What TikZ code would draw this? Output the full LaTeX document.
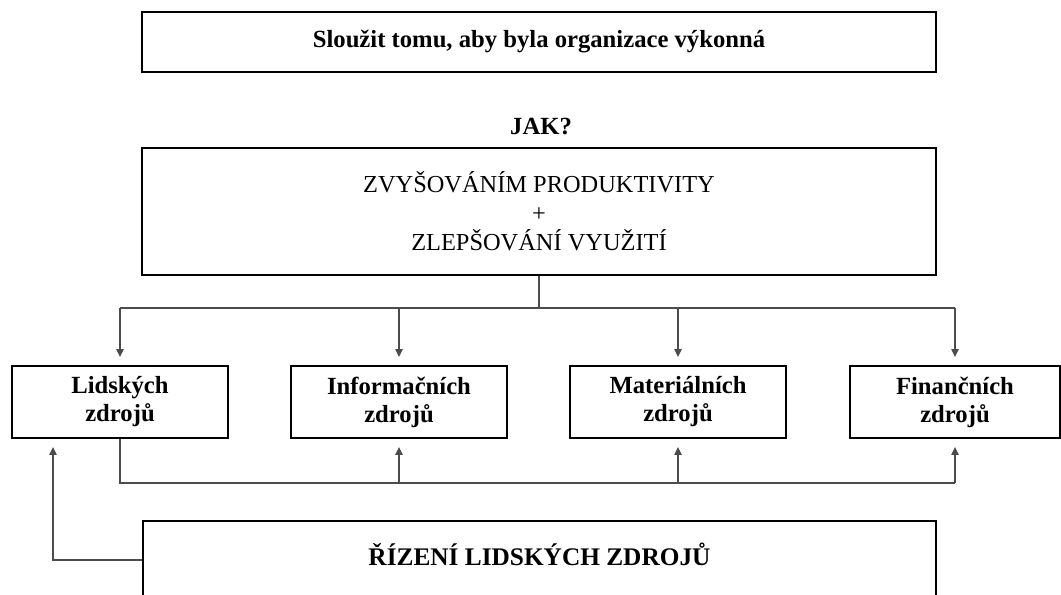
\documentclass[tikz,border=0pt]{standalone}
\usepackage{fontspec}
\setmainfont{Liberation Serif}
\usetikzlibrary{arrows.meta}

\begin{document}
\begin{tikzpicture}[x=0.75pt,y=-0.75pt,
  box/.style={draw=black,line width=1.4pt,inner sep=0pt,align=center},
  bold/.style={font=\fontsize{18.5}{21}\selectfont\bfseries},
  plain/.style={font=\fontsize{18.3}{21.75}\selectfont},
  smallbox/.style={box,bold,minimum height=54pt},
  conn/.style={draw=black!70,line width=0.9pt},
  arr/.style={conn,-{Triangle[length=6pt,width=5.5pt]},shorten >=6pt}]
\useasboundingbox (0,0) rectangle (1061,595);
\clip (0,0) rectangle (1061,595);

% goal and question
\node[box,bold,minimum width=595.5pt,minimum height=45pt] (goal) at (539,42)
  {Sloužit tomu, aby byla organizace výkonná};
\node[bold] (how) at (541,127) {JAK?};

% the two means
\node[box,plain,minimum width=595.5pt,minimum height=95.25pt] (means) at (539,211.5)
  {ZVYŠOVÁNÍM PRODUKTIVITY\\+\\ZLEPŠOVÁNÍ VYUŽITÍ};

% the four kinds of resources (struts keep the two lines level in every box)
\newcommand\rstrut{\vphantom{Ľý}}
\node[smallbox,minimum width=162pt] (lid) at (120,402) {\rstrut Lidských\\zdrojů};
\node[smallbox,minimum width=162pt] (inf) at (399,402) {\rstrut Informačních\\zdrojů};
\node[smallbox,minimum width=162pt] (mat) at (678,402) {\rstrut Materiálních\\zdrojů};
\node[smallbox,minimum width=157.5pt] (fin) at (955,402) {\rstrut Finančních\\zdrojů};

% human resource management (runs past the lower edge)
\node[box,anchor=north,minimum width=594.75pt,inner ysep=0pt,
  font=\fontsize{19}{21}\selectfont\bfseries,
  text height=33.75pt,text depth=60pt] (hrm) at (539.5,520)
  {ŘÍZENÍ LIDSKÝCH ZDROJŮ};

% distribution bus below the means box
\coordinate (busT) at (0,308);
\coordinate (busB) at (0,483);
\draw[conn] (means.south) -- (means.south |- busT);
\draw[conn] (lid.north |- busT) -- (fin.north |- busT);
\foreach \n in {lid,inf,mat,fin}
  \draw[arr] (\n.north |- busT) -- (\n.north);

% human resources feed the other resources
\draw[conn] (lid.south) -- (lid.south |- busB) -- (fin.south |- busB);
\foreach \n in {inf,mat,fin}
  \draw[arr] (\n.south |- busB) -- (\n.south);

% management acts back on human resources
\draw[arr] ([yshift=-30pt]hrm.north west) -| ([xshift=-50.25pt]lid.south);
\end{tikzpicture}
\end{document}
